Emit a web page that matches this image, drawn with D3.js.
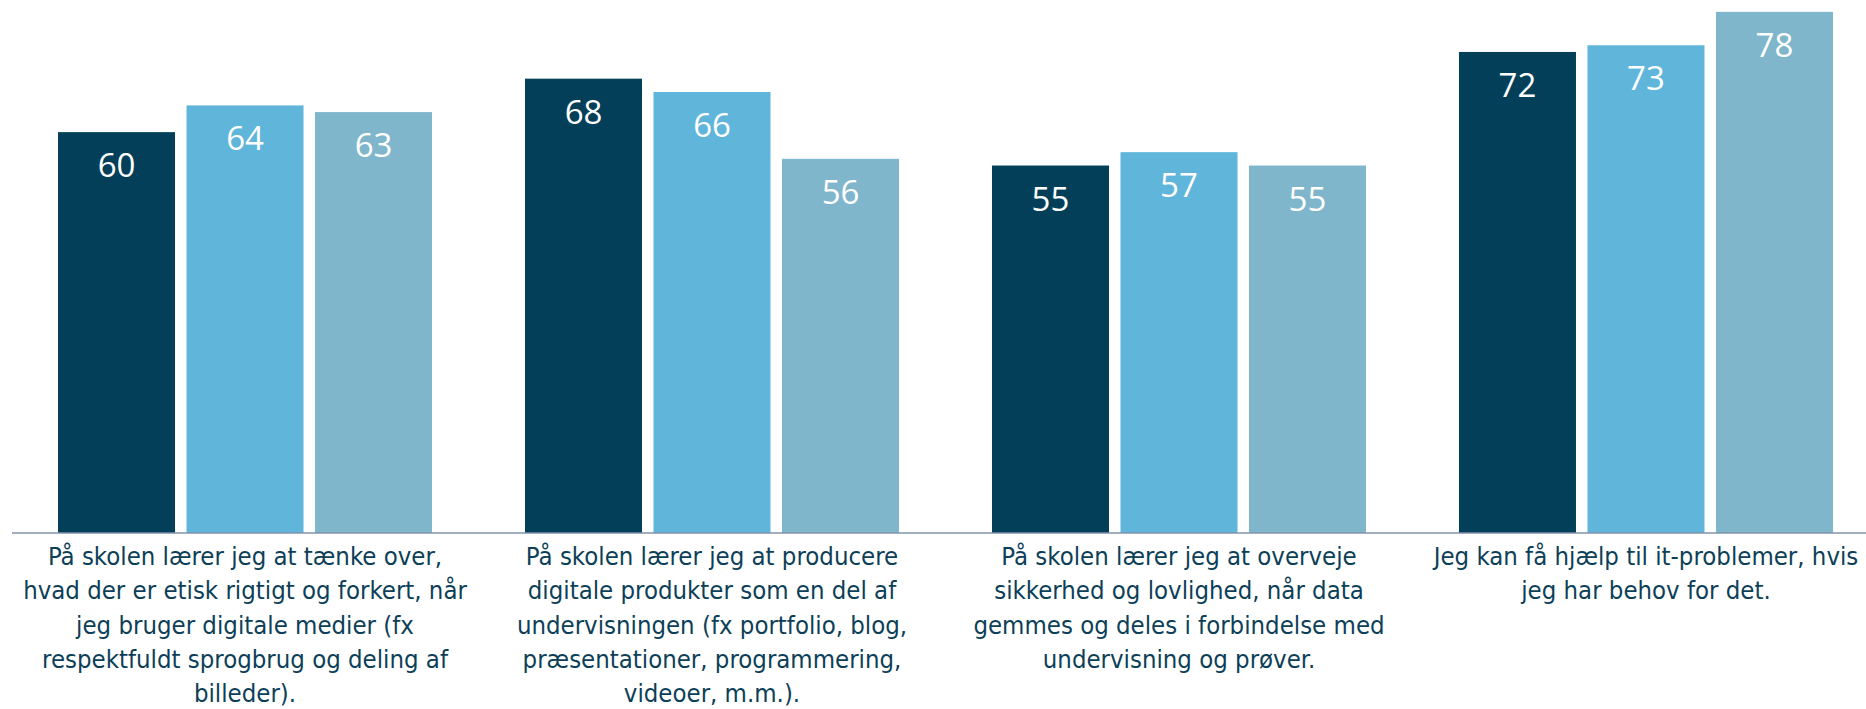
<!DOCTYPE html>
<html>
<head>
<meta charset="utf-8">
<script src="https://cdn.jsdelivr.net/npm/d3@7/dist/d3.min.js"></script>
<style>
  html, body { margin: 0; padding: 0; background: #fff; overflow: hidden; }
  svg { display: block; }
</style>
</head>
<body>
<svg id="chart" width="1866" height="709"></svg>
<script>
// ---- data ----
const categories = ["c1", "c2", "c3", "c4"];
const categoryLabels = [
  ["På skolen lærer jeg at tænke over,", "hvad der er etisk rigtigt og forkert, når", "jeg bruger digitale medier (fx", "respektfuldt sprogbrug og deling af", "billeder)."],
  ["På skolen lærer jeg at producere", "digitale produkter som en del af", "undervisningen (fx portfolio, blog,", "præsentationer, programmering,", "videoer, m.m.)."],
  ["På skolen lærer jeg at overveje", "sikkerhed og lovlighed, når data", "gemmes og deles i forbindelse med", "undervisning og prøver."],
  ["Jeg kan få hjælp til it-problemer, hvis", "jeg har behov for det."]
];
const seriesNames = ["s1", "s2", "s3"];
const series1 = [60, 68, 55, 72];
const series2 = [64, 66, 57, 73];
const series3 = [63, 56, 55, 78];
const seriesValues = [series1, series2, series3];
const colors = ["#033F59", "#5FB5DA", "#80B6CB"];

// ---- layout ----
const svg = d3.select("#chart");
const baseline = 533;

const x0 = d3.scaleBand()
  .domain(categories)
  .range([11.5, 1879.5])
  .paddingInner(0.1991)
  .paddingOuter(0.0996);

const x1 = d3.scaleBand()
  .domain(seriesNames)
  .range([0, x0.bandwidth()])
  .paddingInner(0.0895)
  .paddingOuter(0);

const y = d3.scaleLinear().domain([0, 80]).range([baseline, -1.5]);

const rows = categories.map((c, i) => ({
  cat: c,
  vals: seriesNames.map((s, j) => ({ s, v: seriesValues[j][i], color: colors[j] }))
}));

const g = svg.selectAll("g.grp").data(rows).join("g")
  .attr("class", "grp")
  .attr("transform", d => `translate(${x0(d.cat)},0)`);

g.selectAll("rect").data(d => d.vals).join("rect")
  .attr("x", d => x1(d.s))
  .attr("width", x1.bandwidth())
  .attr("y", d => y(d.v))
  .attr("height", d => baseline - y(d.v))
  .attr("fill", d => d.color);

g.selectAll("text.val").data(d => d.vals).join("text")
  .attr("class", "val")
  .attr("x", d => x1(d.s) + x1.bandwidth() / 2)
  .attr("y", d => y(d.v) + 45)
  .attr("text-anchor", "middle")
  .attr("fill", "#ffffff")
  .style("font-family", "'Segoe UI', 'Open Sans', sans-serif")
  .style("font-size", "33px")
  .text(d => d.v);

// axis line
const xAxis = d3.axisBottom(x0).tickSize(0).tickFormat("");
const ax = svg.append("g").attr("transform", `translate(0,${baseline})`).call(xAxis);
ax.select(".domain").attr("stroke", "#8093AA").attr("stroke-width", 1.4).attr("d", `M12,0H1884`);

// category labels
const lbl = svg.selectAll("text.cat").data(categories).join("text")
  .attr("class", "cat")
  .attr("text-anchor", "middle")
  .attr("fill", "#0D3F58")
  .style("font-family", "'DejaVu Sans Condensed', 'DejaVu Sans', sans-serif")
  .style("font-size", "25.5px");

lbl.selectAll("tspan").data((d, i) => categoryLabels[i].map(t => ({ t, c: d }))).join("tspan")
  .attr("x", d => x0(d.c) + x0.bandwidth() / 2)
  .attr("y", (d, k) => 565 + k * 34.3)
  .text(d => d.t);
</script>
</body>
</html>
